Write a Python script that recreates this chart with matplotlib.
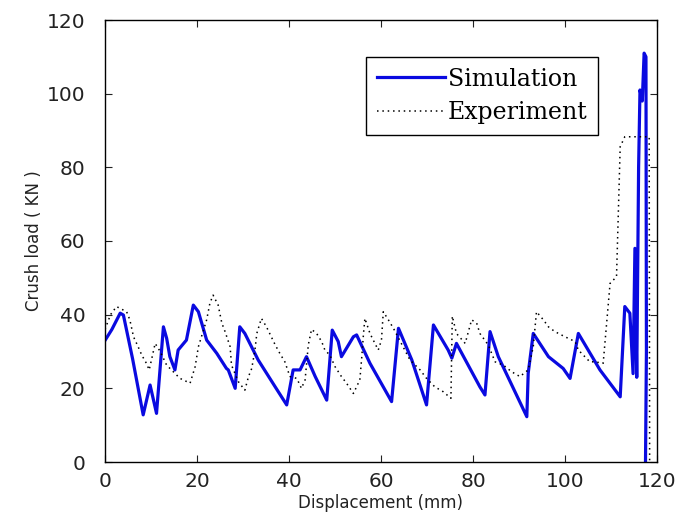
import matplotlib
matplotlib.use('Agg')
import matplotlib.pyplot as plt

# === data ===
sim_x = [0, 1.5, 3.3, 4.0, 6.0, 8.3, 9.8, 11.2, 12.7, 13.4, 14.1, 15.2, 15.9, 17.7,
         19.2, 20.3, 22.1, 24.3, 26.4, 26.8, 28.3, 29.3, 30.4, 33.3, 37.0, 39.5,
         40.9, 42.4, 43.8, 45.7, 48.2, 49.4, 50.7, 51.4, 54.0, 54.7, 57.6, 62.3,
         63.8, 66.7, 69.9, 71.4, 74.6, 75.4, 76.4, 81.5, 82.6, 83.7, 85.5, 91.7,
         92.0, 93.1, 96.4, 99.6, 101.1, 102.9, 107.6, 112.0, 113.0, 114.1, 114.8,
         115.2, 115.6, 116.0, 116.3, 116.8, 117.2, 117.6, 117.7, 117.5]
sim_y = [33, 36, 40.4, 39.9, 28, 12.8, 20.9, 13.2, 36.7, 33.6, 28.6, 25, 30.4, 33.1,
         42.6, 40.8, 33.1, 29.5, 25.4, 25, 20, 36.7, 34.9, 27.7, 20.4, 15.5,
         25, 25, 28.6, 23.2, 16.8, 35.8, 32.7, 28.6, 34, 34.5, 26.8, 16.4,
         36.3, 27.7, 15.5, 37.2, 30.4, 28.2, 32.2, 20.4, 18.2, 35.4, 28.6, 12.3,
         24.1, 34.9, 28.6, 25.4, 22.7, 34.9, 25, 17.7, 42.2, 40.4, 24,
         58, 23, 80, 101, 98, 111, 110, 30, 0]

exp_x = [0, 1.2, 2.5, 4.7, 5.4, 6.2, 7.2, 8.0, 9.0, 9.6, 10.1, 10.9, 12.0, 13.4,
         16.3, 18.5, 19.6, 20.3, 22.1, 22.8, 23.5, 24.6, 25.4, 26.1, 27.2, 27.5,
         29.0, 30.4, 31.2, 31.9, 32.6, 33.0, 34.0, 35.1, 37.0, 38.0, 39.1, 40.2,
         41.7, 42.7, 43.5, 44.2, 44.9, 46.0, 47.1, 47.8, 48.9, 50.0, 51.4, 52.5,
         54.0, 55.4, 55.8, 56.2, 56.5, 57.6, 59.4, 60.1, 60.5, 61.6, 62.7, 66.3,
         68.5, 69.9, 71.7, 73.5, 75.2, 75.5, 76.4, 78.3, 79.7, 80.8, 81.5, 83.3,
         84.8, 86.6, 88.4, 90.2, 92.0, 93.1, 93.8, 95.3, 96.4, 97.8, 100.0, 102.2,
         102.9, 105.4, 106.5, 108.3, 109.8, 111.2, 112.0, 113.0, 118.3, 118.4]
exp_y = [36, 40, 42.2, 40.8, 38.6, 34, 31.3, 29, 26.8, 25, 27.7, 32.2, 30, 26.3,
         22.7, 21.4, 25.9, 31.3, 38.6, 43.1, 45.3, 42.6, 37.7, 35.4, 31.3, 26.3,
         21.8, 19.5, 23.2, 25.4, 30.4, 34.9, 39, 36.7, 31.8, 29.5, 27.2, 23.2,
         22.7, 20, 22.3, 31.8, 36, 34.9, 32.7, 30.4, 29, 25.9, 23.2, 21.4,
         18.6, 22.3, 28.2, 34.9, 39, 34.9, 30.4, 33.1, 40.8, 38.6, 36.3, 27.7,
         25, 22.7, 20.4, 19.1, 17.3, 39.6, 34.9, 32.2, 38.6, 37.7, 34.9, 31.8,
         27.2, 26.3, 24.5, 23.2, 25, 31.3, 40.8, 38.6, 36.7, 35.4, 34, 32.7,
         30.4, 27.2, 27.2, 26.8, 48.5, 50.3, 85.6, 88.3, 88.3, 0]

x_ticks = [0, 20, 40, 60, 80, 100, 120]
y_ticks = [0, 20, 40, 60, 80, 100, 120]

fig = plt.figure(figsize=(6.82, 5.26), dpi=100)
ax = fig.add_axes([105 / 682, 64 / 526, 552 / 682, 442 / 526])

ax.plot(sim_x, sim_y, color='#0a0ae0', linewidth=2.3, label='Simulation')
ax.plot(exp_x, exp_y, color='black', linewidth=1.1, linestyle=(0, (1, 2.5)),
        label='Experiment')

ax.set_xlim(0, 120)
ax.set_ylim(0, 120)
ax.set_xticks(x_ticks)
ax.set_yticks(y_ticks)
ax.tick_params(direction='in', length=5, width=0.8, top=True, right=True,
               labelsize=14.5, colors='#222222')
ax.tick_params(axis='x', pad=7)
ax.tick_params(axis='y', pad=14)
for sp in ax.spines.values():
    sp.set_linewidth(1.0)

ax.set_xlabel('Displacement (mm)', fontsize=12, labelpad=2, color='#222222')
ax.set_ylabel('Crush load ( KN )', fontsize=12, labelpad=3, color='#222222')

leg = ax.legend(loc='upper right', bbox_to_anchor=(0.893, 0.916), borderaxespad=0,
                prop={'family': 'DejaVu Serif', 'size': 17}, handlelength=2.9,
                handletextpad=0.1, labelspacing=0.45, borderpad=0.45,
                fancybox=False, framealpha=1, edgecolor='black')
leg.get_frame().set_linewidth(1.0)

plt.savefig('out.png', dpi=100)
plt.close()
